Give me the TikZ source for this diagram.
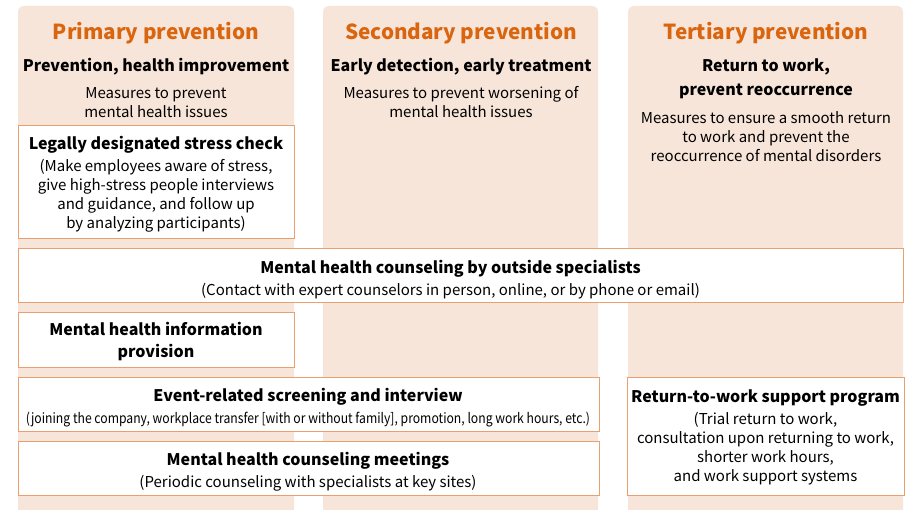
\documentclass[tikz,border=0pt]{standalone}
\usepackage{fontspec}
\setmainfont{Noto Sans CJK JP}
\definecolor{colfill}{HTML}{F8E5D9}
\definecolor{titleor}{HTML}{D9650F}
\definecolor{boxline}{HTML}{E9A06E}
\newcommand{\bhead}[1]{{\fontsize{16}{19}\selectfont\bfseries #1}}
\begin{document}
\begin{tikzpicture}[x=1pt,y=-1pt,
  colbg/.style={fill=colfill,draw=none,rounded corners=6pt},
  titletxt/.style={font=\fontsize{20.7}{24}\selectfont\bfseries,text=titleor},
  subtxt/.style={font=\fontsize{16}{24}\selectfont\bfseries,align=center},
  desctxt/.style={font=\fontsize{15}{19}\selectfont,align=center},
  itembox/.style={draw=boxline,fill=white,line width=1pt},
  boldtxt/.style={font=\fontsize{16}{22}\selectfont\bfseries,align=center},
  regtxt/.style={font=\fontsize{15}{19}\selectfont,align=center}
]
\useasboundingbox (0,0) rectangle (912,510);
\fill[white] (0,0) rectangle (912,510);
% columns
\path[colbg] (18,530) -- (18,6) -- (294,6) -- (294,530) -- cycle;
\path[colbg] (323,530) -- (323,6) -- (598,6) -- (598,530) -- cycle;
\path[colbg] (628,530) -- (628,6) -- (903,6) -- (903,530) -- cycle;
% headings
\node[titletxt] (t1) at (156,33) {Primary prevention};
\node[titletxt] (t2) at (461,33) {Secondary prevention};
\node[titletxt] (t3) at (766,33) {Tertiary prevention};
\node[subtxt] (s1) at (156,67) {Prevention, health improvement};
\node[subtxt] (s2) at (461,67) {Early detection, early treatment};
\node[subtxt] (s3) at (766,79) {Return to work,\\prevent reoccurrence};
\node[desctxt] (d1) at (156,102.5) {Measures to prevent\\mental health issues};
\node[desctxt] (d2) at (461,102.5) {Measures to prevent worsening of\\mental health issues};
\node[desctxt] (d3) at (766,136.5) {Measures to ensure a smooth return\\to work and prevent the\\reoccurrence of mental disorders};
% boxes
\draw[itembox] (18,126) rectangle (294,239);
\node[regtxt] (b1) at (156,184) {\bhead{Legally designated stress check}\\[3pt]
  (Make employees aware of stress,\\
  give high-stress people interviews\\
  and guidance, and follow up\\
  by analyzing participants)};
\draw[itembox] (18,249) rectangle (903,303);
\node[regtxt] (b2) at (450.5,279.5) {\bhead{Mental health counseling by outside specialists}\\[3pt]
  (Contact with expert counselors in person, online, or by phone or email)};
\draw[itembox] (18,313) rectangle (294,367);
\node[boldtxt] (b3) at (156,341.5) {Mental health information\\provision};
\draw[itembox] (18,377) rectangle (599,431);
\node[regtxt] (b4) at (308,408) {\bhead{Event-related screening and interview}\\[3pt]
  {\fontsize{14}{19}\selectfont\scalebox{0.87}[1]{(joining the company, workplace transfer [with or without family], promotion, long work hours, etc.)}}};
\draw[itembox] (18,441) rectangle (599,495);
\node[regtxt] (b5) at (308,471.5) {\bhead{Mental health counseling meetings}\\[3pt]
  (Periodic counseling with specialists at key sites)};
\draw[itembox] (627,377) rectangle (904,495);
\node[regtxt] (b6) at (765.5,437.5) {\bhead{Return-to-work support program}\\[3pt]
  (Trial return to work,\\
  consultation upon returning to work,\\
  shorter work hours,\\
  and work support systems};
\end{tikzpicture}
\end{document}
